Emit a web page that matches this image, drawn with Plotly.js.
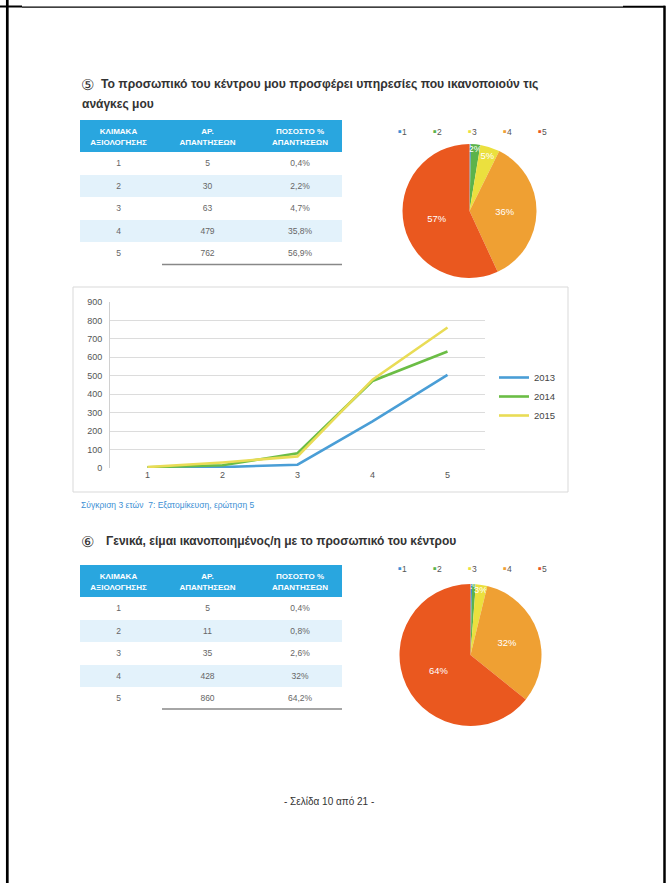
<!DOCTYPE html>
<html><head><meta charset="utf-8">
<script src="https://cdn.plot.ly/plotly-3.0.1.min.js"></script>
<style>html,body{margin:0;padding:0;background:#fff;}#chart{width:668px;height:883px;}</style>
</head><body><div id="chart"></div>
<script>
// ---------- data ----------
const headerLine1 = ['ΚΛΙΜΑΚΑ', 'ΑΡ.', 'ΠΟΣΟΣΤΟ %'];
const headerLine2 = ['ΑΞΙΟΛΟΓΗΣΗΣ', 'ΑΠΑΝΤΗΣΕΩΝ', 'ΑΠΑΝΤΗΣΕΩΝ'];
const scaleLabels = ['1', '2', '3', '4', '5'];
const q5Counts = [5, 30, 63, 479, 762];
const q5Pct = ['0,4%', '2,2%', '4,7%', '35,8%', '56,9%'];
const q6Counts = [5, 11, 35, 428, 860];
const q6Pct = ['0,4%', '0,8%', '2,6%', '32%', '64,2%'];
const lineCats = [1, 2, 3, 4, 5];
const years = ['2013', '2014', '2015'];
const y2013 = [2, 5, 18, 253, 505];
const y2014 = [4, 15, 80, 472, 632];
const y2015 = [5, 30, 63, 479, 762];
const q5Num = '⑤';
const q5TitleLine1 = 'Το προσωπικό του κέντρου μου προσφέρει υπηρεσίες που ικανοποιούν τις';
const q5TitleLine2 = 'ανάγκες μου';
const q6Num = '⑥';
const q6Title = 'Γενικά, είμαι ικανοποιημένος/η με το προσωπικό του κέντρου';
const captionText = 'Σύγκριση 3 ετών  7: Εξατομίκευση, ερώτηση 5';
const footerText = '- Σελίδα 10 από 21 -';

// ---------- styles ----------
const W = 668, H = 883;
const px = v => v / W;
const py = v => 1 - v / H;
const pieColors = ['#3f8fd6', '#5cb34a', '#ebe03e', '#efa033', '#ea581f'];
const yearColors = ['#4a9ed6', '#6bbd45', '#e9dc56'];
const FONT = 'Liberation Sans, Arial, sans-serif';
const HEADER_BLUE = '#29a6df';
const rowFill = ['#ffffff', '#e3f2fb', '#ffffff', '#e3f2fb', '#ffffff'];
const TABLE_X0 = 80, TABLE_X1 = 342, HEADER_H = 32;

function table(counts, pct, top) {
  // header drawn as three stacked rows (two text lines + spacer), each line centred
  const headerValues = headerLine1.map((h, i) => [h, headerLine2[i], '']);
  return {
    type: 'table',
    domain: {x: [px(TABLE_X0), px(TABLE_X1)], y: [py(top + 152), py(top)]},
    columnwidth: [77, 101, 84],
    header: {
      values: headerValues,
      align: 'center',
      height: HEADER_H / 3,
      fill: {color: 'rgba(0,0,0,0)'},
      line: {width: 0, color: 'rgba(0,0,0,0)'},
      font: {family: FONT, size: 8, color: '#ffffff', weight: 'bold'}
    },
    cells: {
      values: [scaleLabels, counts.map(String), pct],
      align: 'center',
      height: 22.5,
      fill: {color: [rowFill, rowFill, rowFill]},
      line: {width: 0, color: '#ffffff'},
      font: {family: FONT, size: 8.5, color: '#666666'}
    }
  };
}

function pie(counts, cx, cy, r) {
  return {
    type: 'pie',
    labels: scaleLabels,
    values: counts,
    sort: false,
    direction: 'clockwise',
    rotation: 0,
    showlegend: false,
    domain: {x: [px(cx - r), px(cx + r)], y: [py(cy + r), py(cy - r)]},
    marker: {colors: pieColors, line: {width: 0}},
    texttemplate: '%{percent:.0%}',
    textposition: 'inside',
    insidetextorientation: 'horizontal',
    insidetextfont: {family: FONT, size: 10, color: '#ffffff'},
    hoverinfo: 'label+value+percent'
  };
}

const data = [
  table(q5Counts, q5Pct, 120),
  table(q6Counts, q6Pct, 565),
  pie(q5Counts, 469.5, 211, 67),
  pie(q6Counts, 470.5, 655, 71)
];
[y2013, y2014, y2015].forEach((ys, i) => {
  data.push({
    type: 'scatter', mode: 'lines', x: lineCats, y: ys, name: years[i],
    line: {color: yearColors[i], width: 2.6},
    xaxis: 'x', yaxis: 'y'
  });
});

// legends for pies built from labels/colors
const annotations = [];
function pieLegend(yPix) {
  scaleLabels.forEach((lab, i) => {
    annotations.push({
      xref: 'paper', yref: 'paper', x: px(396 + i * 35), y: py(yPix),
      xanchor: 'left', yanchor: 'middle', showarrow: false,
      text: '<span style="color:' + pieColors[i] + ';font-size:11px">▪</span>' + lab,
      font: {family: FONT, size: 8.5, color: '#555555'}
    });
  });
}
pieLegend(131);
pieLegend(568);

function txt(x, y, text, size, color, bold, anchor) {
  annotations.push({
    xref: 'paper', yref: 'paper', x: px(x), y: py(y),
    xanchor: anchor || 'left', yanchor: 'middle', showarrow: false,
    text: text, font: {family: FONT, size: size, color: color, weight: bold ? 'bold' : 'normal'}
  });
}
txt(79, 84, q5Num, 15, '#333333', false);
txt(99, 84, q5TitleLine1, 12.2, '#333333', true);
txt(80, 104, q5TitleLine2, 12, '#333333', true);
txt(79, 541, q6Num, 15, '#333333', false);
txt(104, 541, q6Title, 12, '#333333', true);
txt(79, 505, captionText, 8.5, '#3d8fd4', false);
txt(329, 801, footerText, 10, '#333333', false, 'center');

const shapes = [
  // page border lines
  {type: 'line', xref: 'paper', yref: 'paper', x0: px(7.3), x1: px(7.3), y0: py(0), y1: py(H), line: {color: '#000', width: 2.7}},
  {type: 'line', xref: 'paper', yref: 'paper', x0: px(664.5), x1: px(664.5), y0: py(5.7), y1: py(H), line: {color: '#000', width: 2.5}},
  {type: 'line', xref: 'paper', yref: 'paper', x0: px(0), x1: px(22), y0: py(6.5), y1: py(6.5), line: {color: '#000', width: 2}},
  {type: 'line', xref: 'paper', yref: 'paper', x0: px(22), x1: px(623), y0: py(7.2), y1: py(7.2), line: {color: '#000', width: 1.2}},
  {type: 'line', xref: 'paper', yref: 'paper', x0: px(623), x1: px(665), y0: py(6.7), y1: py(6.7), line: {color: '#000', width: 2}},
  // chart frame
  {type: 'rect', xref: 'paper', yref: 'paper', x0: px(73), x1: px(568), y0: py(492), y1: py(287), line: {color: '#d9d9d9', width: 1}},
  // table header backgrounds
  {type: 'rect', layer: 'below', xref: 'paper', yref: 'paper', x0: px(TABLE_X0), x1: px(TABLE_X1), y0: py(120 + HEADER_H), y1: py(120), fillcolor: HEADER_BLUE, line: {width: 0}},
  {type: 'rect', layer: 'below', xref: 'paper', yref: 'paper', x0: px(TABLE_X0), x1: px(TABLE_X1), y0: py(565 + HEADER_H), y1: py(565), fillcolor: HEADER_BLUE, line: {width: 0}},
  // table underlines
  {type: 'line', xref: 'paper', yref: 'paper', x0: px(162), x1: px(342), y0: py(264.5), y1: py(264.5), line: {color: '#888888', width: 1.5}},
  {type: 'line', xref: 'paper', yref: 'paper', x0: px(162), x1: px(342), y0: py(709), y1: py(709), line: {color: '#888888', width: 1.5}}
];

const layout = {
  width: W, height: H, autosize: false,
  margin: {l: 0, r: 0, t: 0, b: 0},
  paper_bgcolor: '#ffffff', plot_bgcolor: 'rgba(0,0,0,0)',
  font: {family: FONT},
  uniformtext: {minsize: 9, mode: 'show'},
  xaxis: {
    domain: [px(110), px(485)], range: [0.5, 5.5], tickvals: lineCats,
    showgrid: false, zeroline: false, showline: false, ticks: '',
    tickfont: {family: FONT, size: 9, color: '#555555'}, anchor: 'y'
  },
  yaxis: {
    domain: [py(468), py(302)], range: [0, 900], dtick: 100,
    showgrid: true, gridcolor: '#dcdcdc', gridwidth: 1, zeroline: false,
    showline: true, linecolor: '#d0d0d0', linewidth: 1, ticks: '',
    ticklabelstandoff: 5,
    tickfont: {family: FONT, size: 9, color: '#555555'}, anchor: 'x'
  },
  legend: {
    x: px(494), y: py(363), xanchor: 'left', yanchor: 'top',
    bgcolor: 'rgba(0,0,0,0)', font: {family: FONT, size: 9.5, color: '#444444'},
    itemwidth: 30, tracegroupgap: 0
  },
  showlegend: true,
  annotations: annotations,
  shapes: shapes
};

Plotly.newPlot('chart', data, layout, {displayModeBar: false, staticPlot: true});
</script>
</body></html>
